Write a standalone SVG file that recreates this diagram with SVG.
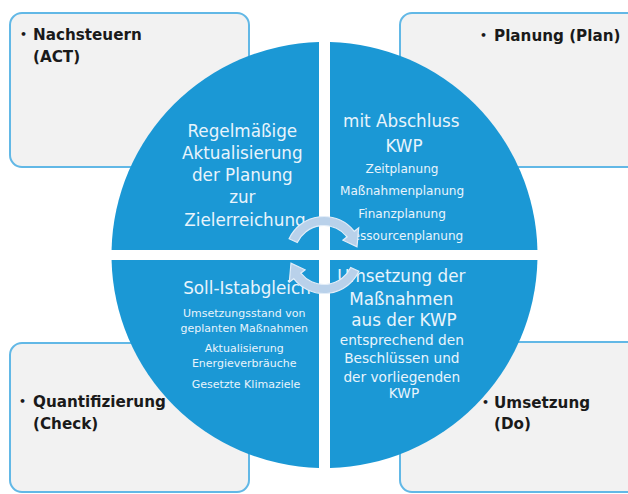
<svg xmlns="http://www.w3.org/2000/svg" width="628" height="494" viewBox="0 0 628 494">
  <style>
    .box { fill: #f2f2f2; stroke: #62b8e6; stroke-width: 2; }
    .quad { fill: #1b98d5; }
    .lbl { font-family: "DejaVu Sans", "Liberation Sans", sans-serif; font-weight: bold; font-size: 15.2px; fill: #1a1a1a; }
    .bul { font-size: 11px; }
    .qt { font-family: "DejaVu Sans", "Liberation Sans", sans-serif; fill: #e8f4fc; text-anchor: middle; }
    .big { font-size: 16.8px; }
    .med { font-size: 13.7px; }
    .sm12 { font-size: 12.1px; }
    .sm11 { font-size: 11px; }
    .arr { fill: #b9d1ea; stroke: #e2edf8; stroke-width: 1.2; }
  </style>
  <rect width="628" height="494" fill="#ffffff"/>

  <g id="box-act">
    <rect class="box" x="10" y="13" width="239" height="154" rx="12"/>
    <text class="lbl"><tspan class="bul" x="20" y="38">•</tspan><tspan x="33" y="40">Nachsteuern</tspan></text>
    <text class="lbl" x="33" y="62">(ACT)</text>
  </g>
  <g id="box-plan">
    <rect class="box" x="400" y="13" width="240" height="154" rx="12"/>
    <text class="lbl"><tspan class="bul" x="480" y="39">•</tspan><tspan x="494" y="41">Planung (Plan)</tspan></text>
  </g>
  <g id="box-check">
    <rect class="box" x="10" y="343" width="239" height="149" rx="12"/>
    <text class="lbl"><tspan class="bul" x="19" y="405">•</tspan><tspan x="33" y="407">Quantifizierung</tspan></text>
    <text class="lbl" x="33" y="429">(Check)</text>
  </g>
  <g id="box-do">
    <rect class="box" x="400" y="342" width="240" height="150" rx="12"/>
    <text class="lbl"><tspan class="bul" x="482" y="406">•</tspan><tspan x="494" y="408">Umsetzung</tspan></text>
    <text class="lbl" x="494" y="429">(Do)</text>
  </g>

  <g id="quad-act">
    <path class="quad" d="M319,250 L319,42.07 A213,213 0 0 0 111.56,250 Z"/>
    <text class="qt big">
      <tspan x="245" y="137">Regelmäßige</tspan>
      <tspan x="245" y="159">Aktualisierung</tspan>
      <tspan x="245" y="181">der Planung</tspan>
      <tspan x="245" y="203">zur</tspan>
      <tspan x="245" y="226">Zielerreichung</tspan>
    </text>
  </g>
  <g id="quad-plan">
    <path class="quad" d="M330,250 L537.44,250 A213,213 0 0 0 330,42.07 Z"/>
    <text class="qt big">
      <tspan x="404" y="127">mit Abschluss</tspan>
      <tspan x="404" y="152">KWP</tspan>
    </text>
    <text class="qt sm12">
      <tspan x="404" y="173">Zeitplanung</tspan>
      <tspan x="404" y="195">Maßnahmenplanung</tspan>
      <tspan x="404" y="218">Finanzplanung</tspan>
      <tspan x="404" y="240">Ressourcenplanung</tspan>
    </text>
  </g>
  <g id="quad-check">
    <path class="quad" d="M319,260 L111.56,260 A213,213 0 0 0 319,467.93 Z"/>
    <text class="qt big" x="247" y="294">Soll-Istabgleich</text>
    <text class="qt sm11">
      <tspan x="246" y="317">Umsetzungsstand von</tspan>
      <tspan x="246" y="332">geplanten Maßnahmen</tspan>
      <tspan x="246" y="352">Aktualisierung</tspan>
      <tspan x="246" y="367">Energieverbräuche</tspan>
      <tspan x="246" y="388">Gesetzte Klimaziele</tspan>
    </text>
  </g>
  <g id="quad-do">
    <path class="quad" d="M330,260 L330,467.93 A213,213 0 0 0 537.44,260 Z"/>
    <text class="qt big">
      <tspan x="404" y="282">Umsetzung der</tspan>
      <tspan x="404" y="305">Maßnahmen</tspan>
      <tspan x="404" y="326">aus der KWP</tspan>
    </text>
    <text class="qt med">
      <tspan x="404" y="345">entsprechend den</tspan>
      <tspan x="404" y="363">Beschlüssen und</tspan>
      <tspan x="404" y="382">der vorliegenden</tspan>
      <tspan x="404" y="398">KWP</tspan>
    </text>
  </g>

  <g id="connectors">
    <path class="arr" d="M289.1,238.7 A38.5,38.5 0 0 1 354.3,231.3 L358.7,227.9 L357,246.8 L342.9,240.2 L347.2,236.8 A29.5,29.5 0 0 0 297.3,242.5 Z"/>
    <path class="arr" transform="rotate(180 324 255)" d="M289.1,238.7 A38.5,38.5 0 0 1 354.3,231.3 L358.7,227.9 L357,246.8 L342.9,240.2 L347.2,236.8 A29.5,29.5 0 0 0 297.3,242.5 Z"/>
  </g>
</svg>
